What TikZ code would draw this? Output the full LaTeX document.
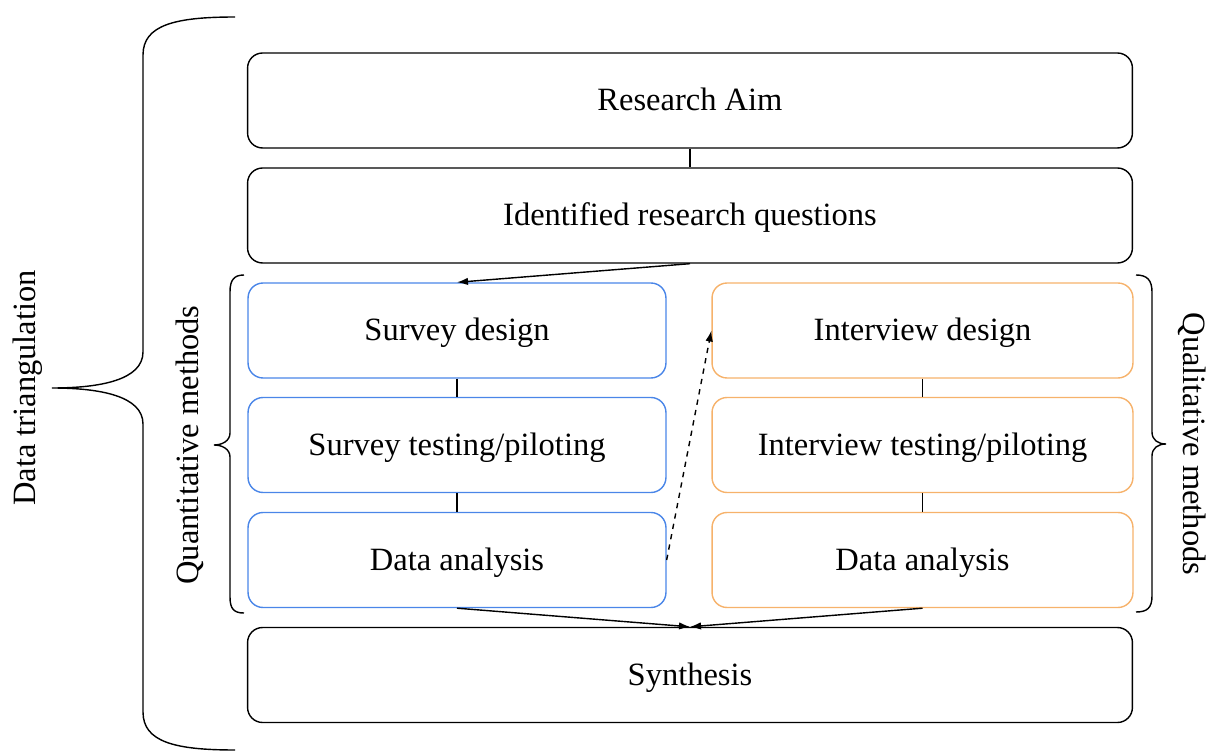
\documentclass[tikz,border=0pt]{standalone}
\usepackage{fontspec}
\setmainfont{Liberation Serif}
\usepackage{tikz}
\usetikzlibrary{arrows,arrows.meta}
\usetikzlibrary{positioning}
\definecolor{quanblue}{HTML}{4A86E8}
\definecolor{qualorange}{HTML}{F6B26B}
\tikzset{
  stagebox/.style={draw, line width=0.8pt, rounded corners=0.3cm, minimum height=1.9cm, text height=3ex, text depth=0.5ex, font=\fontsize{18.5}{22}\selectfont},
  widebox/.style={stagebox, minimum width=17.7cm},
  quanbox/.style={stagebox, draw=quanblue, minimum width=8.36cm},
  qualbox/.style={stagebox, draw=qualorange, minimum width=8.42cm},
  sidelabel/.style={font=\fontsize{18.5}{22}\selectfont},
  link/.style={line width=0.8pt},
}
\begin{document}
\begin{tikzpicture}[x=0.02cm,y=-0.02cm,>={Latex[length=0.22cm,width=0.15cm]}]
\useasboundingbox (0,0) rectangle (1211,753);
%boxes
\node[widebox] (aim) at (690,100.5) {Research Aim};
\node[widebox] (rq) at (690,215.5) {Identified research questions};
\node[quanbox] (sd) at (457,330.5) {Survey design};
\node[quanbox] (st) at (457,445) {Survey testing/piloting};
\node[quanbox] (sa) at (457,560) {Data analysis};
\node[qualbox] (id) at (922.5,330.5) {Interview design};
\node[qualbox] (it) at (922.5,445) {Interview testing/piloting};
\node[qualbox] (ia) at (922.5,560) {Data analysis};
\node[widebox] (syn) at (690,675) {Synthesis};
%edge
\draw[link] (aim)--(rq);
\draw[link,->] (rq.south)--(sd.north);
\draw[link] (sd)--(st); \draw[link] (st)--(sa);
\draw[link] (id)--(it); \draw[link] (it)--(ia);
\draw[link,->,dashed] (sa.east)--(id.west);
\draw[link,->] (sa.south)--(syn.north); \draw[link,->] (ia.south)--(syn.north);
%braces
\draw[line width=0.8pt] (235,17) .. controls (175,17) and (143,25) .. (143,55) -- (143,352)
  .. controls (143,380) and (100,388) .. (52,388) .. controls (100,388) and (143,396) .. (143,424)
  -- (143,712) .. controls (143,742) and (175,750) .. (235,750);
\draw[line width=0.8pt] (244,275) .. controls (234,275) and (230,280) .. (230,292) -- (230,433)
  .. controls (230,441) and (222,445) .. (214,445) .. controls (222,445) and (230,449) .. (230,457)
  -- (230,597) .. controls (230,609) and (234,613) .. (244,613);
\draw[line width=0.8pt] (1136,275) .. controls (1147,275) and (1152,280) .. (1152,292) -- (1152,432)
  .. controls (1152,440) and (1158,444) .. (1166,444) .. controls (1158,444) and (1152,448) .. (1152,456)
  -- (1152,596) .. controls (1152,608) and (1147,612) .. (1136,612);
%labels
\node[sidelabel,rotate=90] (tri) at (28,388) {Data triangulation};
\node[sidelabel,rotate=90] (quan) at (190,445) {Quantitative methods};
\node[sidelabel,rotate=-90] (qual) at (1192,444) {Qualitative methods};
\end{tikzpicture}
\end{document}
